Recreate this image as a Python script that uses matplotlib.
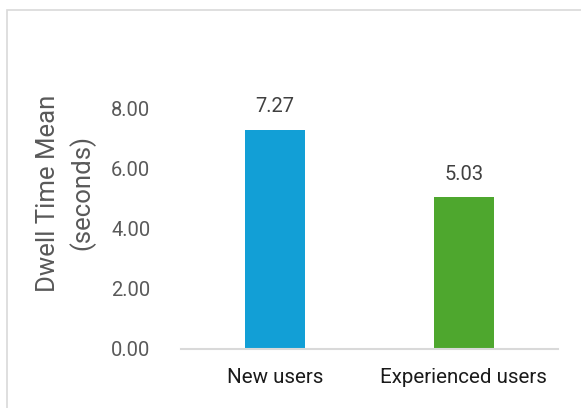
import matplotlib
matplotlib.use("Agg")
import matplotlib.pyplot as plt
from matplotlib.patches import Rectangle

categories = ["New users", "Experienced users"]
dwell_means = [7.27, 5.03]
bar_colors = ["#129fd6", "#4ea72e"]
y_ticks = [0, 2, 4, 6, 8]

W, H = 581, 408
fig = plt.figure(figsize=(W / 100, H / 100), dpi=100)
plt.rcParams["font.family"] = ["Roboto", "DejaVu Sans"]

# chart frame
fig.patches.append(Rectangle((7 / W, -0.05), 1.2, (H - 10) / H + 0.05,
                             transform=fig.transFigure, fill=False,
                             edgecolor="#d9d9d9", linewidth=1.2))

# plot area: x 181..558, baseline at y=349, 8.00 at y=108
left, right = 181 / W, 558 / W
px_per_unit = (349 - 108) / 8
ymax = 9.0
top_px = 349 - ymax * px_per_unit
ax = fig.add_axes([left, (H - 349) / H, right - left, (349 - top_px) / H])

x = list(range(len(categories)))
bars = ax.bar(x, dwell_means, width=0.32, color=bar_colors)
ax.set_xlim(-0.5, len(categories) - 0.5)
ax.set_ylim(0, ymax)
ax.set_yticks(y_ticks)
ax.set_yticklabels([f"{v:.2f}" for v in y_ticks])
ax.set_xticks(x)
ax.set_xticklabels(categories)

for s in ["top", "right", "left"]:
    ax.spines[s].set_visible(False)
ax.spines["bottom"].set_color("#d9d9d9")
ax.spines["bottom"].set_linewidth(1.5)
ax.tick_params(axis="y", length=0, pad=22, labelsize=14.5, labelcolor="#595959")
ax.tick_params(axis="x", length=0, pad=14, labelsize=14.8, labelcolor="#1a1a1a")

for b, v in zip(bars, dwell_means):
    ax.annotate(f"{v:.2f}", (b.get_x() + b.get_width() / 2, v),
                xytext=(0, 10), textcoords="offset points",
                ha="center", va="bottom", fontsize=14.5, color="#404040")

fig.text(48 / W, 1 - 193 / H, "Dwell Time Mean", rotation=90,
         ha="center", va="center", fontsize=18.5, color="#595959")
fig.text(82 / W, 1 - 193 / H, "(seconds)", rotation=90,
         ha="center", va="center", fontsize=18.5, color="#595959")

fig.savefig("out.png", dpi=100)
